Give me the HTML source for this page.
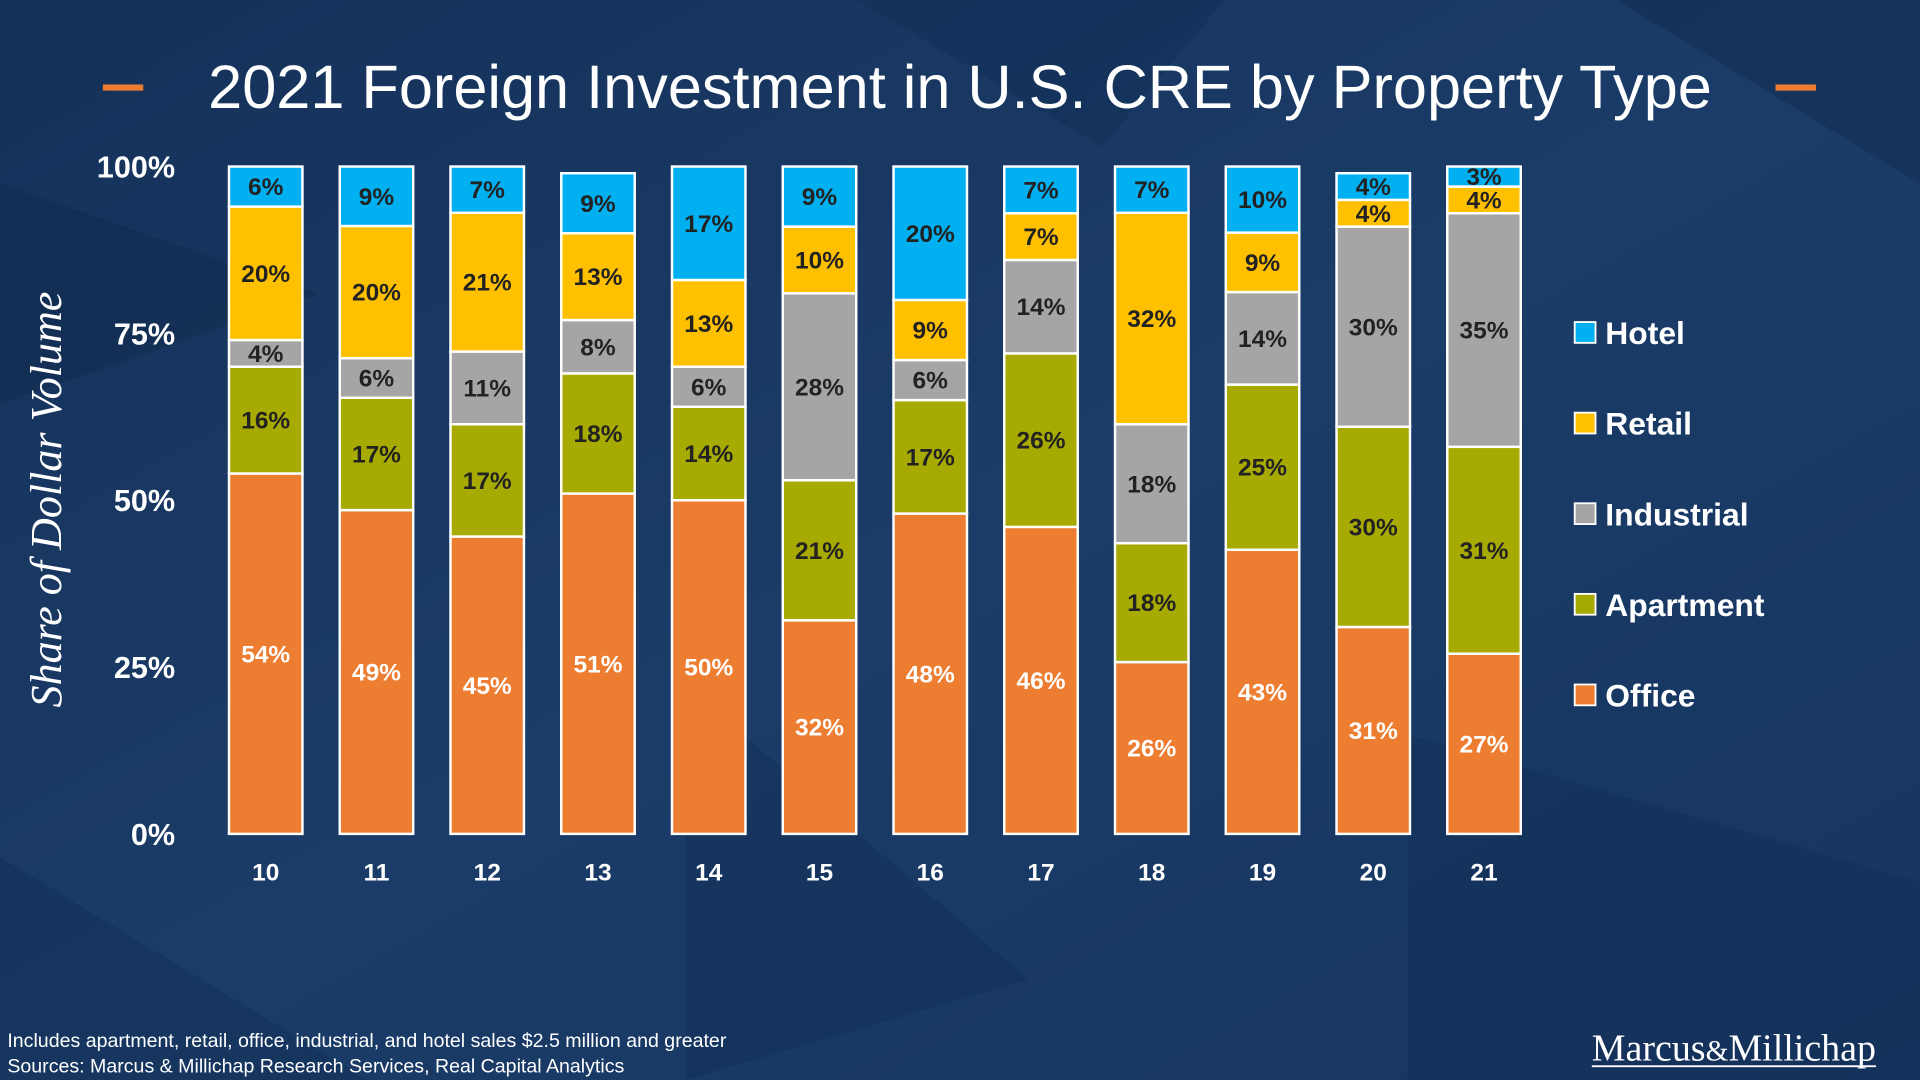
<!DOCTYPE html>
<html><head><meta charset="utf-8"><style>
html,body{margin:0;padding:0;width:1920px;height:1080px;overflow:hidden;background:#173660}
svg{display:block}
</style></head><body>
<svg width="1920" height="1080" viewBox="0 0 1568 882" xmlns="http://www.w3.org/2000/svg" font-family="Liberation Sans, sans-serif">
<defs><linearGradient id="bg" x1="0" y1="0" x2="1" y2="1"><stop offset="0" stop-color="#143159"/><stop offset="0.5" stop-color="#1b3c68"/><stop offset="1" stop-color="#163560"/></linearGradient></defs>
<rect width="1568" height="882" fill="url(#bg)"/>
<g opacity="0.35">
<polygon points="0,150 260,240 0,330" fill="#0d2546"/>
<polygon points="1320,0 1568,0 1568,150" fill="#0d2546"/>
<polygon points="560,560 840,800 560,882" fill="#0f2a50"/>
<polygon points="1150,600 1568,720 1568,882 1150,882" fill="#0f2a50"/>
<polygon points="0,700 300,882 0,882" fill="#0f2a50"/>
<polygon points="700,0 1000,0 900,120" fill="#0f2a50"/>
</g>
<text x="784" y="88" fill="#fff" font-family="Liberation Sans, sans-serif" font-size="50" text-anchor="middle" textLength="1228" lengthAdjust="spacingAndGlyphs">2021 Foreign Investment in U.S. CRE by Property Type</text>
<rect x="84" y="69" width="33" height="5" fill="#ED7D31"/>
<rect x="1450" y="69" width="33" height="5" fill="#ED7D31"/>
<text transform="translate(50,408) rotate(-90)" fill="#fff" font-family="Liberation Serif, serif" font-style="italic" font-size="36" text-anchor="middle">Share of Dollar Volume</text>
<g id="yticks"></g>
<g id="bars"></g>
<g id="xlabels"></g>
<g id="legend"></g>
<text x="6" y="855" fill="#fff" font-size="16">Includes apartment, retail, office, industrial, and hotel sales $2.5 million and greater</text>
<text x="6" y="876" fill="#fff" font-size="16">Sources: Marcus &amp; Millichap Research Services, Real Capital Analytics</text>
<text x="1416" y="866" fill="#fff" font-family="Liberation Serif, serif" font-size="31" text-anchor="middle">Marcus<tspan font-size="24">&amp;</tspan>Millichap</text>
<rect x="1300" y="870" width="232" height="1.5" fill="#fff"/>
</svg>
<script>
const categories=["10","11","12","13","14","15","16","17","18","19","20","21"];
const office=[54,49,45,51,50,32,48,46,26,43,31,27];
const apartment=[16,17,17,18,14,21,17,26,18,25,30,31];
const industrial=[4,6,11,8,6,28,6,14,18,14,30,35];
const retail=[20,20,21,13,13,10,9,7,32,9,4,4];
const hotel=[6,9,7,9,17,9,20,7,7,10,4,3];
const yTicks=[0,25,50,75,100];
const seriesNames=["Office","Apartment","Industrial","Retail","Hotel"];
const NS="http://www.w3.org/2000/svg";
const colors=["#ED7D31","#A7AA00","#A5A5A5","#FFC000","#00B0F0"];
const y0=681,yTop=136;
const yScale=v=>y0-(v/100)*(y0-yTop);
const xScale=i=>217+i*90.45;
const bw=60;
function mk(tag,parent,attrs){const e=document.createElementNS(NS,tag);for(const k in attrs)e.setAttribute(k,attrs[k]);parent.appendChild(e);return e;}
const yg=document.getElementById('yticks');
yTicks.forEach(t=>{const e=mk('text',yg,{x:143,y:yScale(t)+9,fill:'#fff','font-size':25,'font-weight':'bold','text-anchor':'end'});


e.textContent=t+'%';});
const series=[office,apartment,industrial,retail,hotel];
const bg=document.getElementById('bars');
categories.forEach((c,i)=>{let cum=0;const cx=xScale(i);
let tot=0;series.forEach(s=>tot+=s[i]);const f=100/Math.max(tot,100);
series.forEach((s,k)=>{const v=s[i];const yb=yScale(cum*f),yt=yScale((cum+v)*f);
const r=mk('rect',bg,{x:cx-bw/2,y:yt,width:bw,height:yb-yt,fill:colors[k],stroke:'#fff','stroke-width':2});


const t=mk('text',bg,{x:cx,y:(yb+yt)/2+7,fill:k==0?'#fff':'#222','font-size':20,'font-weight':'bold','text-anchor':'middle'});


t.textContent=v+'%';cum+=v;});
const xl=mk('text',document.getElementById('xlabels'),{x:cx,y:719,fill:'#fff','font-size':20,'font-weight':'bold','text-anchor':'middle'});


xl.textContent=c;});
const lg=document.getElementById('legend');
[4,3,2,1,0].forEach((k,j)=>{const y=272+j*74;
const r=mk('rect',lg,{x:1286,y:y-9,width:17,height:17,fill:colors[k],stroke:'#fff','stroke-width':1.5});


const t=mk('text',lg,{x:1311,y:y+9,fill:'#fff','font-size':26,'font-weight':'bold'});


t.textContent=seriesNames[k];});
</script>
</body></html>
